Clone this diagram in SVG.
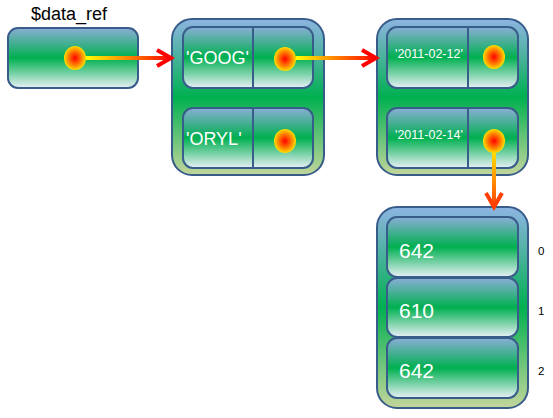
<svg xmlns="http://www.w3.org/2000/svg" width="553" height="418" viewBox="0 0 553 418">
<style>
.outer{fill:url(#gOuter);stroke:#385d8a;stroke-width:2}
.cell{fill:url(#gCell);stroke:#385d8a;stroke-width:2}
.div{stroke:#385d8a;stroke-width:2}
.dot{fill:url(#gDot)}
.w{fill:#ffffff;font-family:"Liberation Sans",Arial,sans-serif}
.k{fill:#000000;font-family:"Liberation Sans",Arial,sans-serif}
.conn{fill:none;stroke-width:4}
</style>
<defs>
<linearGradient id="gOuter" x1="0" y1="0" x2="0" y2="1">
<stop offset="0" stop-color="#8eb4e3"/>
<stop offset="0.5" stop-color="#00b050"/>
<stop offset="1" stop-color="#c3d69b"/>
</linearGradient>
<linearGradient id="gCell" x1="0" y1="0" x2="0" y2="1">
<stop offset="0" stop-color="#8aaed6"/>
<stop offset="0.5" stop-color="#00b050"/>
<stop offset="1" stop-color="#e8f0f6"/>
</linearGradient>
<radialGradient id="gDot" cx="0.5" cy="0.5" r="0.5">
<stop offset="0" stop-color="#ff0000"/>
<stop offset="0.6" stop-color="#ff8000"/>
<stop offset="1" stop-color="#ffe000"/>
</radialGradient>
<linearGradient id="gA1" gradientUnits="userSpaceOnUse" x1="86" y1="0" x2="172" y2="0">
<stop offset="0" stop-color="#ffff00"/>
<stop offset="1" stop-color="#ff0000"/>
</linearGradient>
<linearGradient id="gA2" gradientUnits="userSpaceOnUse" x1="296" y1="0" x2="377" y2="0">
<stop offset="0" stop-color="#ffff00"/>
<stop offset="1" stop-color="#ff0000"/>
</linearGradient>
<linearGradient id="gA3" gradientUnits="userSpaceOnUse" x1="0" y1="153" x2="0" y2="208">
<stop offset="0" stop-color="#ffdd00"/>
<stop offset="1" stop-color="#ff4000"/>
</linearGradient>
<marker id="mRed" markerWidth="20" markerHeight="20" markerUnits="userSpaceOnUse" refX="17" refY="10" orient="auto" overflow="visible">
<path d="M3,2 L17,10 L3,18" fill="none" stroke="#ff0000" stroke-width="4"/>
</marker>
<marker id="mOrange" markerWidth="20" markerHeight="20" markerUnits="userSpaceOnUse" refX="17" refY="10" orient="auto" overflow="visible">
<path d="M3,2 L17,10 L3,18" fill="none" stroke="#ff4000" stroke-width="4"/>
</marker>
</defs>

<g id="data_ref">
<text class="k" x="31" y="20" font-size="18">$data_ref</text>
<rect class="cell" x="8" y="28" width="130" height="60" rx="10"/>
<ellipse class="dot" cx="75" cy="58" rx="11" ry="12"/>
</g>

<g id="hash">
<rect class="outer" x="172" y="19" width="152" height="156" rx="20"/>
<rect class="cell" x="183" y="27" width="130" height="61" rx="10"/>
<line class="div" x1="253" y1="27" x2="253" y2="88"/>
<text class="w" x="186" y="64" font-size="18">'GOOG'</text>
<ellipse class="dot" cx="285" cy="59" rx="11" ry="12"/>
<rect class="cell" x="183" y="108" width="130" height="60" rx="10"/>
<line class="div" x1="253" y1="108" x2="253" y2="168"/>
<text class="w" x="186" y="145" font-size="18">'ORYL'</text>
<ellipse class="dot" cx="285" cy="141" rx="11" ry="12"/>
</g>

<g id="dates">
<rect class="outer" x="377" y="19" width="151" height="156" rx="20"/>
<rect class="cell" x="387" y="27" width="131" height="61" rx="10"/>
<line class="div" x1="468" y1="27" x2="468" y2="88"/>
<text class="w" x="395" y="58" font-size="12.5">'2011-02-12'</text>
<ellipse class="dot" cx="494" cy="57" rx="11" ry="12"/>
<rect class="cell" x="387" y="108" width="131" height="60" rx="10"/>
<line class="div" x1="468" y1="108" x2="468" y2="168"/>
<text class="w" x="395" y="139" font-size="12.5">'2011-02-14'</text>
<ellipse class="dot" cx="494" cy="141" rx="11" ry="12"/>
</g>

<g id="array">
<rect class="outer" x="377" y="207" width="151" height="201" rx="20"/>
<rect class="cell" x="387" y="217" width="131" height="60" rx="10"/>
<text class="w" x="399" y="258" font-size="21">642</text>
<rect class="cell" x="387" y="278" width="131" height="59" rx="10"/>
<text class="w" x="399" y="318" font-size="21">610</text>
<rect class="cell" x="387" y="338" width="131" height="60" rx="10"/>
<text class="w" x="399" y="378" font-size="21">642</text>
<text class="k" x="538" y="255" font-size="11.5">0</text>
<text class="k" x="538" y="315" font-size="11.5">1</text>
<text class="k" x="538" y="375" font-size="11.5">2</text>
</g>

<g id="connectors">
<line class="conn" x1="86" y1="58" x2="171" y2="58" stroke="url(#gA1)" marker-end="url(#mRed)"/>
<line class="conn" x1="296" y1="58" x2="376" y2="58" stroke="url(#gA2)" marker-end="url(#mRed)"/>
<line class="conn" x1="494" y1="153" x2="494" y2="207" stroke="url(#gA3)" marker-end="url(#mOrange)"/>
</g>
</svg>
